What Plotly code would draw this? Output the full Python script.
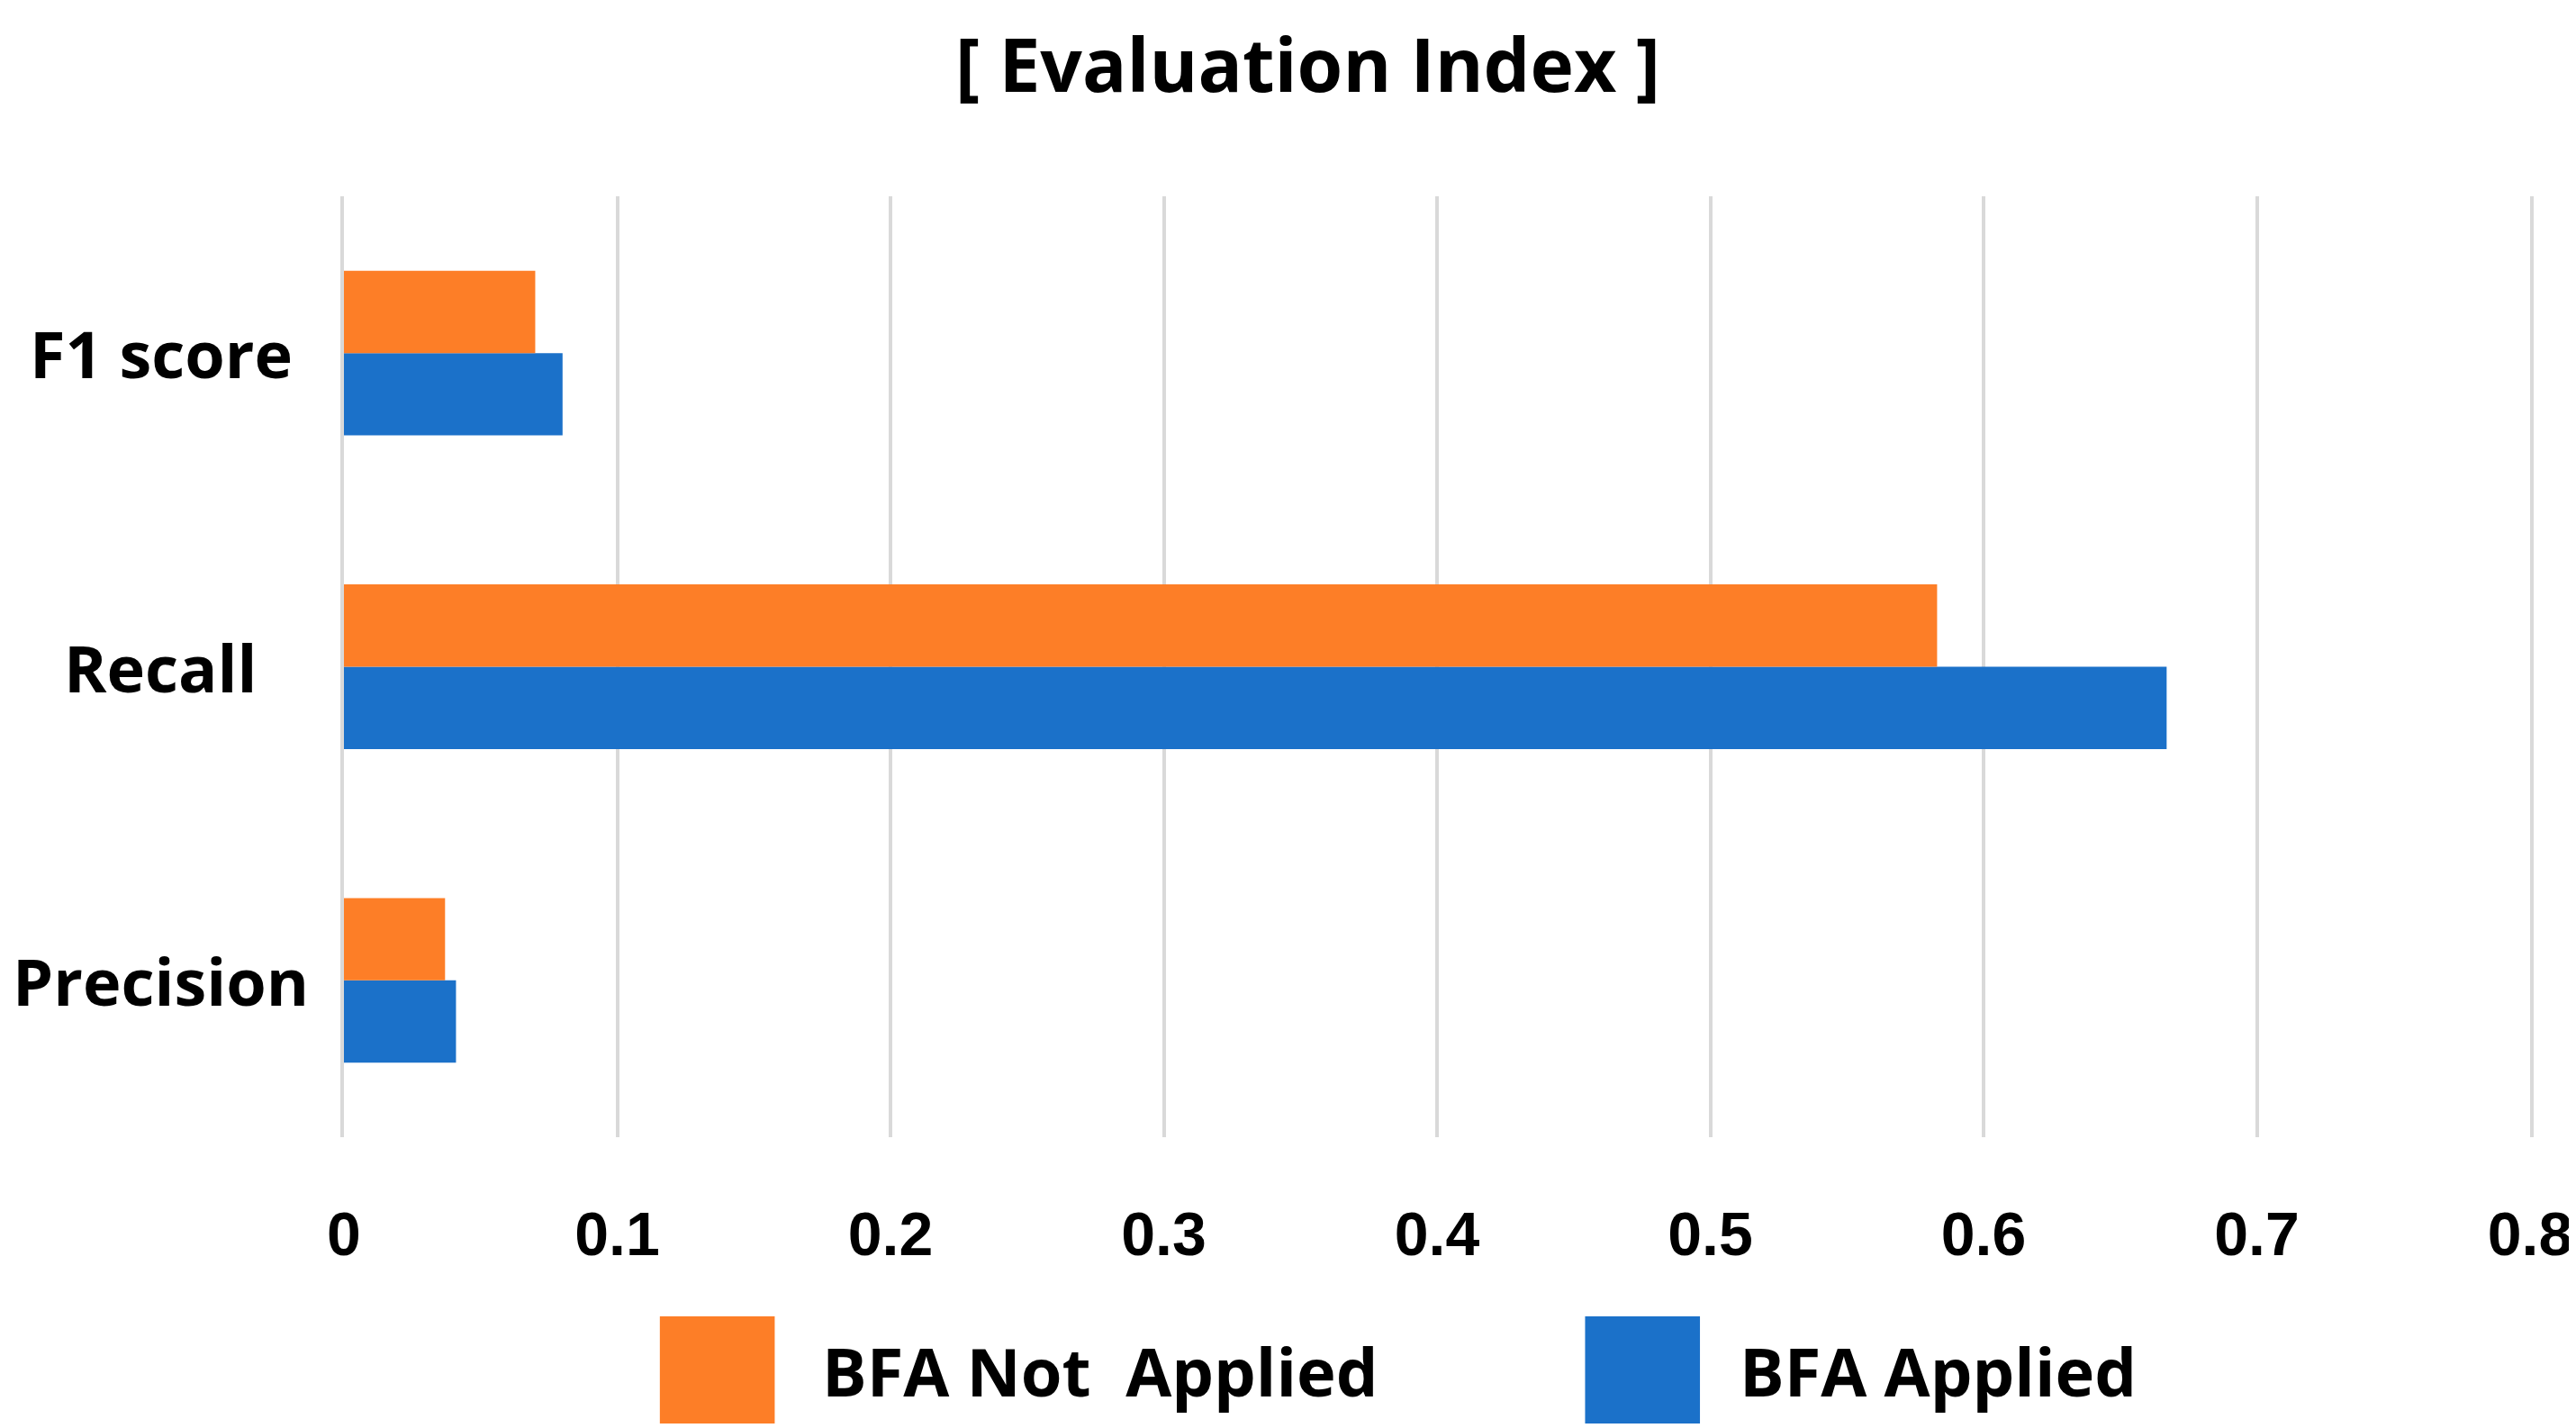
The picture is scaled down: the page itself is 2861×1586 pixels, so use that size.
import plotly.graph_objects as go

# ---- data ----
categories = ["Precision", "Recall", "F1 score"]          # bottom -> top
series_names = ["BFA Not\u00a0 Applied", "BFA Applied"]
not_applied = [0.037, 0.583, 0.070]
applied = [0.041, 0.667, 0.080]
series_colors = ["#FD7E27", "#1B71C9"]
x_ticks = [0, 0.1, 0.2, 0.3, 0.4, 0.5, 0.6, 0.7, 0.8]
x_tick_labels = ["0", "0.1", "0.2", "0.3", "0.4", "0.5", "0.6", "0.7", "0.8"]
title_text = "[ Evaluation Index ]"

W, H = 2861, 1586
ML, MR, MT, MB = 374, 51, 210, 331
PW, PH = W - ML - MR, H - MT - MB


def px_x(p):
    return (p - ML) / PW


def px_y(p):
    return (H - MB - p) / PH


TXT = dict(family="Open Sans, DejaVu Sans, sans-serif", color="black", weight="bold")
GRID = "#D9D9D9"

fig = go.Figure()
# blue first so that orange sits on top within each group
fig.add_trace(go.Bar(y=categories, x=applied, orientation="h", name=series_names[1],
                     marker=dict(color=series_colors[1], line=dict(width=0)), showlegend=False))
fig.add_trace(go.Bar(y=categories, x=not_applied, orientation="h", name=series_names[0],
                     marker=dict(color=series_colors[0], line=dict(width=0)), showlegend=False))

fig.update_layout(
    width=W, height=H,
    margin=dict(l=ML, r=MR, t=MT, b=MB),
    paper_bgcolor="white", plot_bgcolor="white",
    barmode="group", bargap=0.475, bargroupgap=0,
    showlegend=False,
    xaxis=dict(range=[0, 0.8], tickvals=x_ticks, ticktext=x_tick_labels,
               showgrid=True, gridcolor=GRID, gridwidth=4,
               zeroline=False, showline=False, ticks="",
               ticklabelstandoff=62,
               tickfont=dict(family="Liberation Sans, Arial, sans-serif", size=68,
                             color="black", weight="bold")),
    yaxis=dict(categoryorder="array", categoryarray=categories, range=[-0.5, 2.5],
               showgrid=False, zeroline=False, showticklabels=False,
               showline=True, mirror=True, linecolor=GRID, linewidth=4, layer="below traces"),
)

annotations = []
# title
annotations.append(dict(text=title_text, xref="paper", yref="paper",
                        x=px_x(1448), y=px_y(4), xanchor="center", yanchor="top",
                        showarrow=False, font=dict(size=82, **TXT)))
# category labels, centered
for c in categories:
    annotations.append(dict(text=c, xref="paper", yref="y", x=px_x(170), y=c,
                            xanchor="center", yanchor="middle", showarrow=False,
                            font=dict(size=72, **TXT)))

# custom legend (large swatches)
shapes = []
legend_items = [
    (series_names[0], series_colors[0], 726, 854, 905),
    (series_names[1], series_colors[1], 1757, 1885, 1927),
]
for name, col, x0, x1, tx in legend_items:
    shapes.append(dict(type="rect", xref="paper", yref="paper",
                       x0=px_x(x0), x1=px_x(x1), y0=px_y(1454), y1=px_y(1573),
                       fillcolor=col, line=dict(width=0), layer="above"))
    annotations.append(dict(text=name, xref="paper", yref="paper", x=px_x(tx), y=px_y(1514),
                            xanchor="left", yanchor="middle", showarrow=False,
                            font=dict(size=74, **TXT)))

fig.update_layout(annotations=annotations, shapes=shapes)
fig.write_html("out.html")
